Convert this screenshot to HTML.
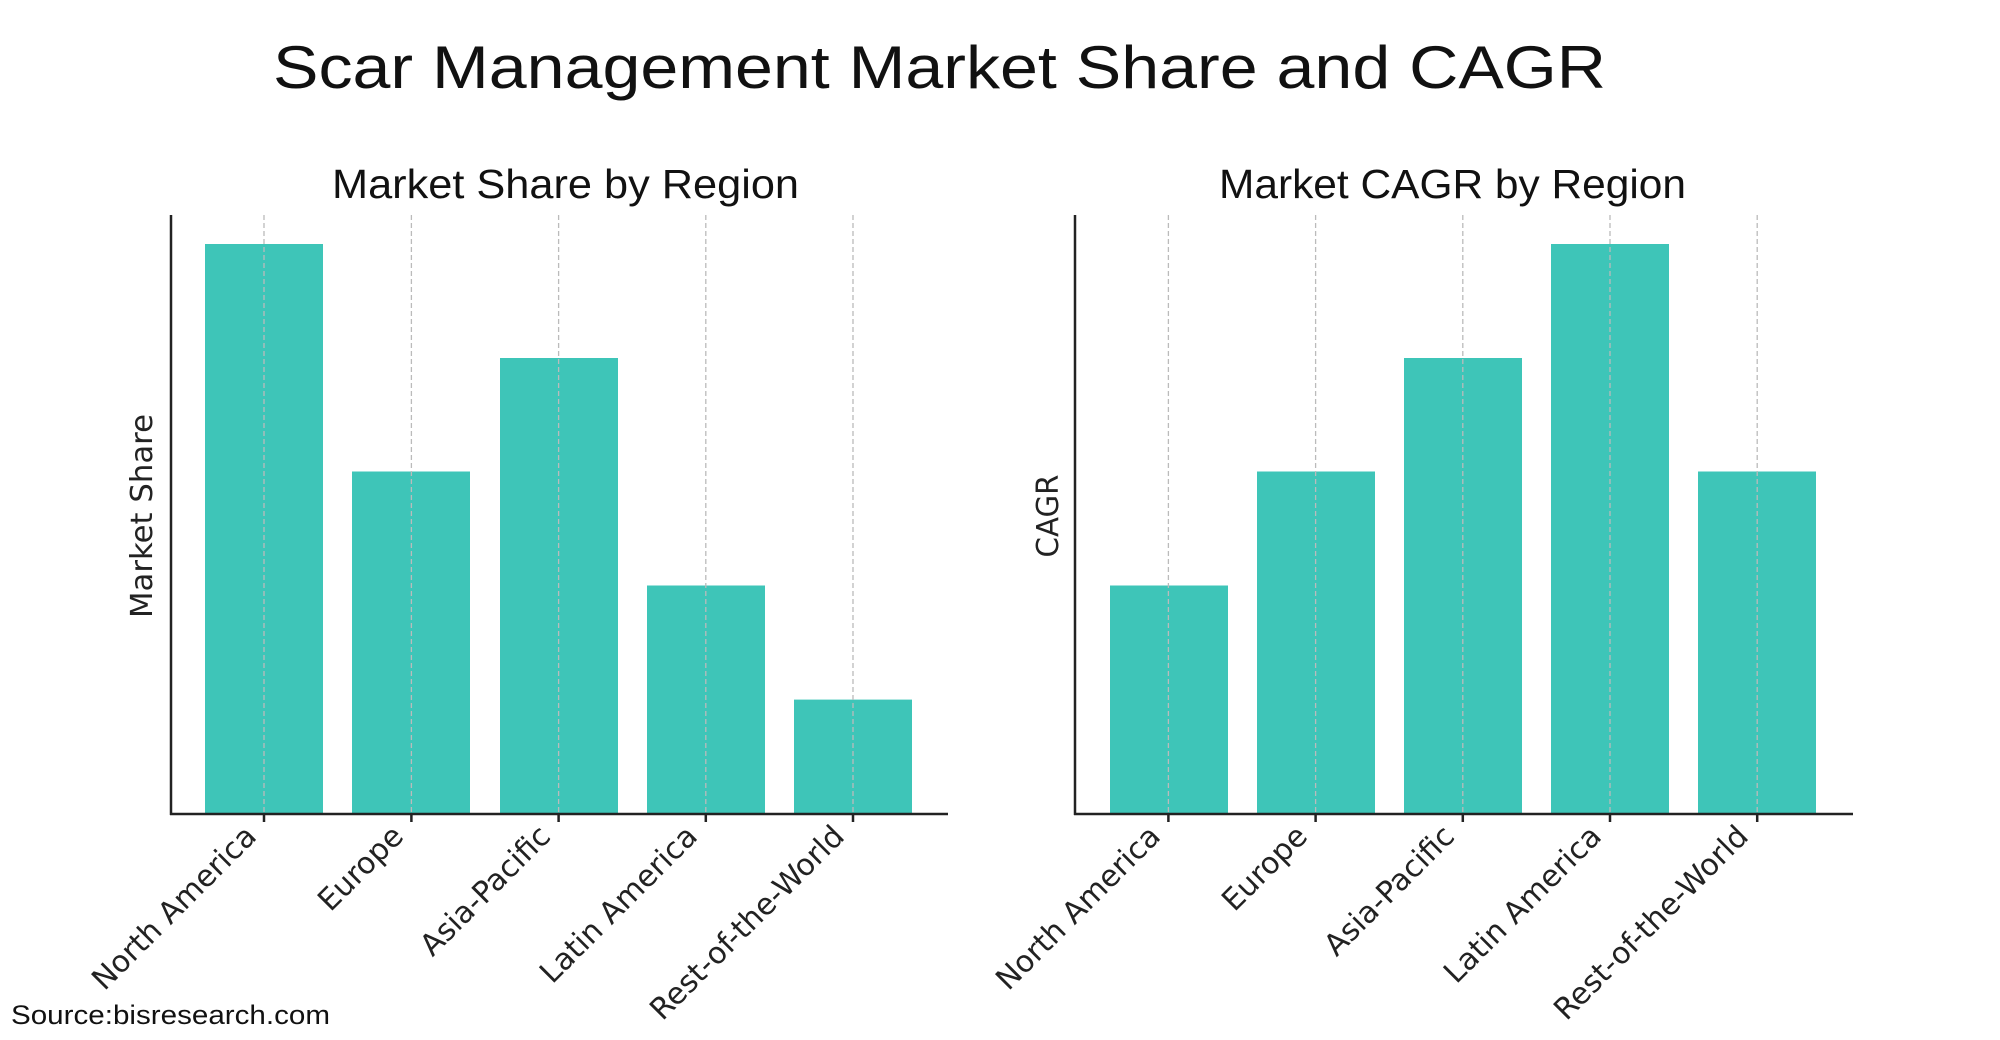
<!DOCTYPE html>
<html><head><meta charset="utf-8"><style>
html,body{margin:0;padding:0;background:#fff;}
svg{display:block;}
text{font-family:"Liberation Sans",sans-serif;fill:#111;}
text.tk{font-family:"DejaVu Sans",sans-serif;font-size:30px;fill:#222;}
</style></head><body>
<svg width="2000" height="1040" viewBox="0 0 2000 1040" xmlns="http://www.w3.org/2000/svg">
<text x="273" y="88" font-size="60" textLength="1333" lengthAdjust="spacingAndGlyphs">Scar Management Market Share and CAGR</text>
<text x="11" y="1024" font-size="27" textLength="319" lengthAdjust="spacingAndGlyphs">Source:bisresearch.com</text>

<!-- Left chart -->
<text x="332" y="198" font-size="41" textLength="467" lengthAdjust="spacingAndGlyphs">Market Share by Region</text>
<text transform="translate(152,516) rotate(-90)" class="tk" text-anchor="middle" textLength="204" lengthAdjust="spacingAndGlyphs">Market Share</text>
<g fill="#3ec5b8">
<rect x="205" y="244" width="118" height="570"/>
<rect x="352" y="471.5" width="118" height="342.5"/>
<rect x="500" y="358" width="118" height="456"/>
<rect x="647" y="585.5" width="118" height="228.5"/>
<rect x="794" y="699.6" width="118" height="114.4"/>
</g>
<g stroke="#bbb" stroke-width="1.3" stroke-dasharray="5,3">
<line x1="264" y1="215" x2="264" y2="814"/><line x1="411.4" y1="215" x2="411.4" y2="814"/><line x1="558.6" y1="215" x2="558.6" y2="814"/><line x1="705.8" y1="215" x2="705.8" y2="814"/><line x1="853" y1="215" x2="853" y2="814"/>
</g>
<g stroke="#222" stroke-width="2.5">
<line x1="171" y1="215" x2="171" y2="815"/><line x1="170" y1="814" x2="948" y2="814"/>
<line x1="264" y1="814" x2="264" y2="822"/><line x1="411.4" y1="814" x2="411.4" y2="822"/><line x1="558.6" y1="814" x2="558.6" y2="822"/><line x1="705.8" y1="814" x2="705.8" y2="822"/><line x1="853" y1="814" x2="853" y2="822"/>
</g>
<g text-anchor="end">
<text class="tk" transform="translate(258,838) rotate(-45)">North America</text>
<text class="tk" transform="translate(405,838) rotate(-45)">Europe</text>
<text class="tk" transform="translate(552,838) rotate(-45)">Asia-Pacific</text>
<text class="tk" transform="translate(699,838) rotate(-45)">Latin America</text>
<text class="tk" transform="translate(846,838) rotate(-45)">Rest-of-the-World</text>
</g>

<!-- Right chart -->
<text x="1219" y="198" font-size="41" textLength="467" lengthAdjust="spacingAndGlyphs">Market CAGR by Region</text>
<text transform="translate(1058,516) rotate(-90)" class="tk" text-anchor="middle" textLength="83" lengthAdjust="spacingAndGlyphs">CAGR</text>
<g fill="#3ec5b8">
<rect x="1110" y="585.5" width="118" height="228.5"/>
<rect x="1257" y="471.5" width="118" height="342.5"/>
<rect x="1404" y="358" width="118" height="456"/>
<rect x="1551" y="244" width="118" height="570"/>
<rect x="1698" y="471.5" width="118" height="342.5"/>
</g>
<g stroke="#bbb" stroke-width="1.3" stroke-dasharray="5,3">
<line x1="1168.4" y1="215" x2="1168.4" y2="814"/><line x1="1315.6" y1="215" x2="1315.6" y2="814"/><line x1="1462.8" y1="215" x2="1462.8" y2="814"/><line x1="1610" y1="215" x2="1610" y2="814"/><line x1="1757.2" y1="215" x2="1757.2" y2="814"/>
</g>
<g stroke="#222" stroke-width="2.5">
<line x1="1075" y1="215" x2="1075" y2="815"/><line x1="1074" y1="814" x2="1853" y2="814"/>
<line x1="1168.4" y1="814" x2="1168.4" y2="822"/><line x1="1315.6" y1="814" x2="1315.6" y2="822"/><line x1="1462.8" y1="814" x2="1462.8" y2="822"/><line x1="1610" y1="814" x2="1610" y2="822"/><line x1="1757.2" y1="814" x2="1757.2" y2="822"/>
</g>
<g text-anchor="end">
<text class="tk" transform="translate(1162,838) rotate(-45)">North America</text>
<text class="tk" transform="translate(1309,838) rotate(-45)">Europe</text>
<text class="tk" transform="translate(1456,838) rotate(-45)">Asia-Pacific</text>
<text class="tk" transform="translate(1603,838) rotate(-45)">Latin America</text>
<text class="tk" transform="translate(1750,838) rotate(-45)">Rest-of-the-World</text>
</g>
</svg>
</body></html>
